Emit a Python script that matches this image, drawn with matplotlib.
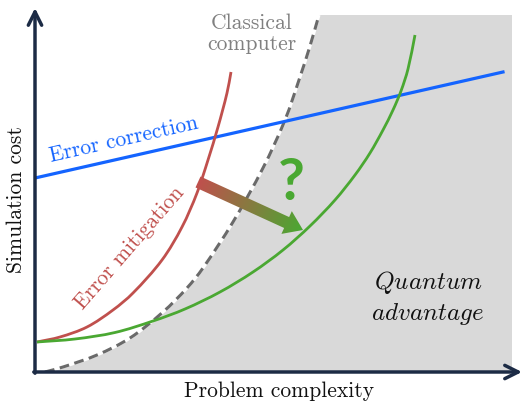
import numpy as np
import matplotlib
matplotlib.use('Agg')
import matplotlib.pyplot as plt
from matplotlib.patches import FancyArrow, PathPatch
from matplotlib.path import Path
from matplotlib.colors import LinearSegmentedColormap

plt.rcParams['mathtext.fontset'] = 'cm'
plt.rcParams['font.family'] = ['cmr10']
plt.rcParams['axes.unicode_minus'] = False

# ---- schematic data (arbitrary units) ----
correction_x = [0, 468]
correction_y = [194, 300]

mitigation_x = [2, 25, 52, 78, 98, 127, 147, 162, 173, 183, 192, 196]
mitigation_y = [30, 35, 45, 62, 79, 112, 145, 179, 212, 245, 279, 300]

green_x = [2, 40, 80, 118, 150, 185, 218, 248, 275, 300, 320, 335, 348, 358, 366, 373, 380]
green_y = [30, 33, 39.5, 51, 63, 80, 100, 122, 146, 172, 197, 219, 242, 262, 281, 303, 337]

classical_x = [10, 28, 62, 95, 128, 152, 168, 198, 228, 250, 265, 275, 284]
classical_y = [0, 5, 17, 34, 60, 84, 104, 150, 204, 252, 295, 326, 357]

region_right = 477
arrow_start = (163, 190)
arrow_end = (268, 142)

BLUE = '#1464ff'
RED = '#c0504d'
GREEN = '#4aa832'
GRAY = '#6a6a6a'
AXIS = '#1c2b45'
FILL = '#d9d9d9'


def smooth_path(xs, ys):
    """Smooth cubic Bezier path through the given points (chord-scaled tangents)."""
    p = np.column_stack([xs, ys]).astype(float)
    n = len(p)
    tang = np.zeros_like(p)
    for i in range(n):
        a = p[max(i - 1, 0)]
        b = p[min(i + 1, n - 1)]
        d = b - a
        tang[i] = d / np.hypot(*d)
    verts = [p[0]]
    codes = [Path.MOVETO]
    for i in range(n - 1):
        L = np.hypot(*(p[i + 1] - p[i])) / 3.0
        verts += [p[i] + tang[i] * L, p[i + 1] - tang[i + 1] * L, p[i + 1]]
        codes += [Path.CURVE4] * 3
    return verts, codes


W, H = 526, 403
fig = plt.figure(figsize=(W / 100, H / 100), dpi=100)
ax = fig.add_axes([35 / W, 31 / H, 487 / W, 364 / H])
ax.set_xlim(0, 487)
ax.set_ylim(0, 364)
ax.axis('off')

# quantum advantage region
cv, cc = smooth_path(classical_x, classical_y)
fv = cv + [(region_right, classical_y[-1]), (region_right, classical_y[0]), cv[0]]
fc = cc + [Path.LINETO, Path.LINETO, Path.CLOSEPOLY]
ax.add_patch(PathPatch(Path(fv, fc), fc=FILL, ec='none', lw=0, zorder=1))

# classical computer boundary (dashed over white)
ax.add_patch(PathPatch(Path(cv, cc), fc='none', ec='white', lw=2.2, zorder=2))
ax.add_patch(PathPatch(Path(cv, cc), fc='none', ec=GRAY, lw=2.2, ls=(0, (3.2, 1.8)),
                       zorder=3, capstyle='butt'))

# curves
ax.plot(correction_x, correction_y, color=BLUE, lw=2.3, zorder=4)
for xs, ys, col in [(mitigation_x, mitigation_y, RED), (green_x, green_y, GREEN)]:
    v, c = smooth_path(xs, ys)
    ax.add_patch(PathPatch(Path(v, c), fc='none', ec=col, lw=2.0, zorder=4))

# gradient arrow
dx = arrow_end[0] - arrow_start[0]
dy = arrow_end[1] - arrow_start[1]
arr = FancyArrow(arrow_start[0], arrow_start[1], dx, dy, width=12, head_width=25,
                 head_length=18, length_includes_head=True, fc='none', ec='none', zorder=5)
ax.add_patch(arr)
x0, x1 = min(arrow_start[0], arrow_end[0]) - 20, max(arrow_start[0], arrow_end[0]) + 20
y0, y1 = min(arrow_start[1], arrow_end[1]) - 20, max(arrow_start[1], arrow_end[1]) + 20
gx, gy = np.meshgrid(np.linspace(x0, x1, 300), np.linspace(y0, y1, 300))
t = ((gx - arrow_start[0]) * dx + (gy - arrow_start[1]) * dy) / (dx * dx + dy * dy)
t = np.clip(t, 0, 1)
cmap = LinearSegmentedColormap.from_list('rg', [RED, GREEN])
im = ax.imshow(t, extent=(x0, x1, y0, y1), origin='lower', cmap=cmap, aspect='auto',
               zorder=5, interpolation='bilinear')
im.set_clip_path(arr)
ax.set_xlim(0, 487)
ax.set_ylim(0, 364)

# axes with arrows
ax.annotate('', xy=(487, 0), xytext=(-1.2, 0),
            arrowprops=dict(arrowstyle='->', lw=2.5, color=AXIS, shrinkA=0, shrinkB=0,
                            mutation_scale=24), annotation_clip=False, zorder=6)
ax.annotate('', xy=(0, 364), xytext=(0, -1.2),
            arrowprops=dict(arrowstyle='->', lw=2.5, color=AXIS, shrinkA=0, shrinkB=0,
                            mutation_scale=24), annotation_clip=False, zorder=6)

# texts
fs = 15.5
ax.text(244, -19, 'Problem complexity', ha='center', va='center', fontsize=fs,
        color='#111111', clip_on=False)
ax.text(-19, 172, 'Simulation cost', ha='center', va='center', fontsize=fs,
        rotation=90, color='#111111', clip_on=False)
ax.text(89, 232, 'Error correction', ha='center', va='center', fontsize=fs,
        rotation=12.8, rotation_mode='anchor', color=BLUE, zorder=7)
ax.text(95, 124, 'Error mitigation', ha='center', va='center', fontsize=fs,
        rotation=49, rotation_mode='anchor', color=RED, zorder=7)
ax.text(217, 338, 'Classical\ncomputer', ha='center', va='center', fontsize=fs,
        color='#808080', linespacing=1.1, zorder=7)
ax.text(393, 74, '$\\mathit{Quantum}$\n$\\mathit{advantage}$', ha='center', va='center',
        fontsize=18, color='#111111', linespacing=1.25, zorder=7)
ax.text(256, 188, '?', ha='center', va='center', fontsize=42, fontweight='bold',
        family=['Lato', 'DejaVu Sans'], color=GREEN, zorder=7)

fig.savefig('out.png', dpi=100)
